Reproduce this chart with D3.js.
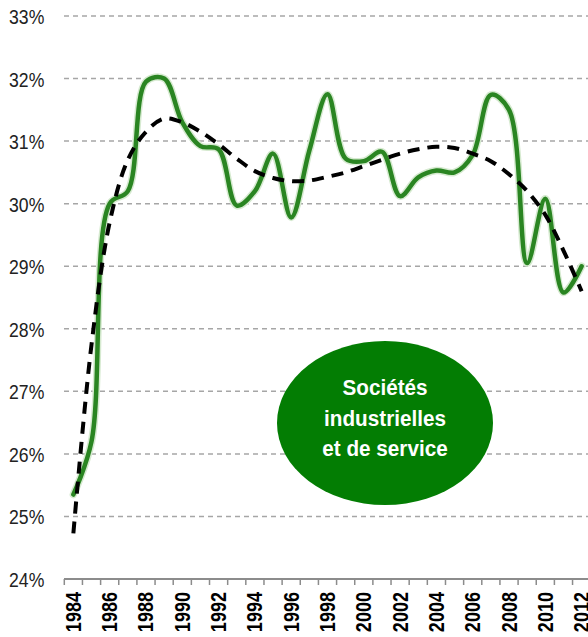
<!DOCTYPE html>
<html>
<head>
<meta charset="utf-8">
<script src="https://cdn.jsdelivr.net/npm/d3@7"></script>
<style>
html,body{margin:0;padding:0;background:#fff;}
svg{display:block;}
</style>
</head>
<body>
<svg id="chart" width="588" height="637"></svg>
<script>
const years = d3.range(1984, 2013);
const yTicks = [24, 25, 26, 27, 28, 29, 30, 31, 32, 33];
const xLabelYears = [1984,1986,1988,1990,1992,1994,1996,1998,2000,2002,2004,2006,2008,2010,2012];
const ratio = [25.35, 26.2, 30.0, 30.2, 31.95, 32.0, 31.3, 30.92, 30.87, 29.97,
               30.2, 30.8, 29.78, 30.85, 31.75, 30.72, 30.68, 30.83, 30.12, 30.42,
               30.53, 30.5, 30.78, 31.74, 31.5, 29.05, 30.08, 28.58, 29.0];
const trend = [24.73, 27.75, 29.7, 30.7, 31.15, 31.36, 31.3, 31.15, 30.95, 30.72,
               30.52, 30.41, 30.36, 30.37, 30.43, 30.5, 30.6, 30.7, 30.8, 30.87,
               30.91, 30.89, 30.8, 30.68, 30.47, 30.2, 29.82, 29.25, 28.6];
const labelLines = ["Sociétés", "industrielles", "et de service"];

const svg = d3.select("#chart");
const x = d3.scaleLinear().domain([1983.5, 2012.5]).range([64.3, 590.7]);
const y = d3.scaleLinear().domain([24, 33]).range([579, 16]);

// gridlines
svg.append("g").selectAll("line")
  .data(yTicks.filter(d => d > 24))
  .join("line")
  .attr("x1", 64).attr("x2", 588)
  .attr("y1", d => y(d)).attr("y2", d => y(d))
  .attr("stroke", "#a6a6a6").attr("stroke-width", 1.5)
  .attr("stroke-dasharray", "5,4");

// y axis labels (condensed)
const yAxis = svg.append("g").attr("transform", "translate(64.3,0)")
  .call(d3.axisLeft(y).tickValues(yTicks).tickSize(0).tickPadding(20).tickFormat(d => d + "%"));
yAxis.select(".domain").remove();
yAxis.selectAll(".tick text")
  .attr("x", null).attr("dy", null)
  .attr("transform", "translate(-20,7.5) scale(0.84,1)")
  .attr("font-family", "'Liberation Sans',Arial,sans-serif")
  .attr("font-size", 21).attr("fill", "#222");

// x axis line and ticks
const xa = svg.append("g");
xa.append("line").attr("x1", 64).attr("x2", 588).attr("y1", 579).attr("y2", 579)
  .attr("stroke", "#8c8c8c").attr("stroke-width", 2);
xa.selectAll("line.tk").data(years.concat([2013]))
  .join("line").attr("class", "tk")
  .attr("x1", d => x(d - 0.5)).attr("x2", d => x(d - 0.5))
  .attr("y1", 579).attr("y2", 585)
  .attr("stroke", "#8c8c8c").attr("stroke-width", 1.5);
xa.selectAll("text").data(xLabelYears).join("text")
  .attr("transform", d => `translate(${x(d) + 7.5},592) rotate(-90) scale(0.82,1)`)
  .attr("text-anchor", "end")
  .attr("font-family", "'Liberation Sans',Arial,sans-serif")
  .attr("font-weight", "bold").attr("font-size", 22).attr("fill", "#000")
  .text(d => d);

// green line
const line = d3.line().x((d, i) => x(years[i])).y(d => y(d)).curve(d3.curveCatmullRom.alpha(0.5));
svg.append("path").datum(ratio).attr("d", line)
  .attr("fill", "none").attr("stroke", "#d6ead0").attr("stroke-width", 7.5)
  .attr("stroke-linejoin", "round").attr("stroke-linecap", "round");
svg.append("path").datum(ratio).attr("d", line)
  .attr("fill", "none").attr("stroke", "#2a8522").attr("stroke-width", 4.5)
  .attr("stroke-linejoin", "round").attr("stroke-linecap", "round");

// trend line
svg.append("path").datum(trend).attr("d", line)
  .attr("fill", "none").attr("stroke", "#000").attr("stroke-width", 4)
  .attr("stroke-dasharray", "12,8");

// ellipse label
svg.append("ellipse").attr("cx", 385).attr("cy", 423).attr("rx", 108).attr("ry", 82)
  .attr("fill", "#037d03");
svg.append("g").selectAll("text").data(labelLines).join("text")
  .attr("transform", (d, i) => `translate(385,${395 + i * 30.5}) scale(0.94,1)`)
  .attr("text-anchor", "middle")
  .attr("font-family", "'Liberation Sans',Arial,sans-serif")
  .attr("font-weight", "bold").attr("font-size", 22).attr("fill", "#fff")
  .text(d => d);
</script>
</body>
</html>
